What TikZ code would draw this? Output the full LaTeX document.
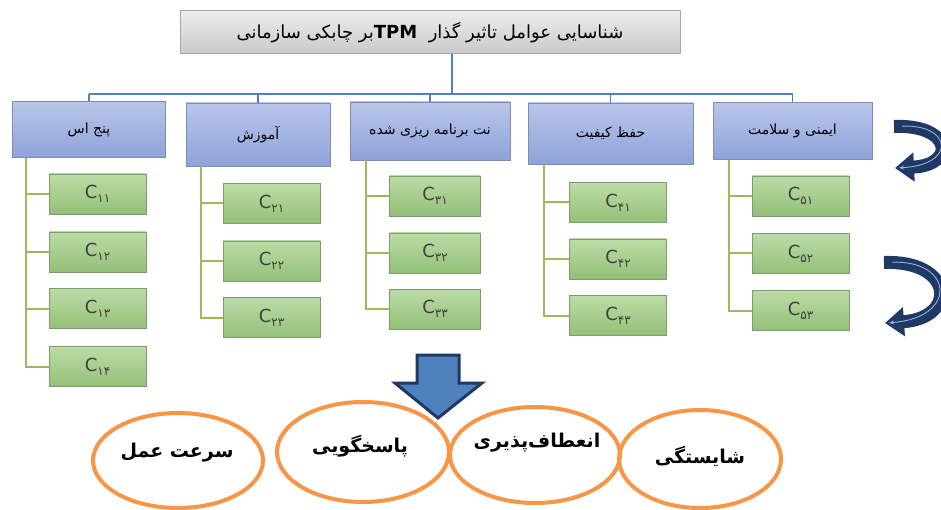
\documentclass[tikz,border=0pt]{standalone}
\usepackage{fontspec}
\setmainfont{DejaVu Sans}
\newfontfamily\arabicfont[Script=Arabic]{DejaVu Sans}
\TeXXeTstate=1
\usetikzlibrary{arrows.meta,shapes.geometric}

\definecolor{titletop}{HTML}{EDEDED}
\definecolor{titlebot}{HTML}{C9C9C9}
\definecolor{titleedge}{HTML}{A6A6A6}
\definecolor{bluetop}{HTML}{B9C6EA}
\definecolor{bluebot}{HTML}{8FA3DA}
\definecolor{blueedge}{HTML}{7F8CAE}
\definecolor{greentop}{HTML}{BCDCA6}
\definecolor{greenbot}{HTML}{93C078}
\definecolor{greenedge}{HTML}{7F9A6E}
\definecolor{linkblue}{HTML}{4F81BD}
\definecolor{linkgreen}{HTML}{9BBB59}
\definecolor{ringorange}{HTML}{F79646}
\definecolor{navy}{HTML}{1F3864}
\definecolor{arrowblue}{HTML}{4F81BD}
\definecolor{paleblue}{HTML}{8DB3E2}

% subscripted criterion label: C with Persian digits
\newcommand\critlab[1]{C\raisebox{-4pt}{\arabicfont\fontsize{12}{12}\selectfont #1}}

\begin{document}
\begin{tikzpicture}[x=1pt,y=-1pt,
  titlebox/.style={draw=titleedge, line width=1pt, top color=titletop, bottom color=titlebot,
    inner sep=0pt, minimum width=500pt, minimum height=43pt,
    font=\arabicfont\fontsize{18}{20}\selectfont},
  factor/.style={draw=blueedge, line width=0.8pt, top color=bluetop, bottom color=bluebot,
    inner sep=0pt, font=\arabicfont\fontsize{14}{16}\selectfont},
  crit/.style={draw=greenedge, line width=0.8pt, top color=greentop, bottom color=greenbot,
    inner sep=0pt, minimum width=97pt, minimum height=40pt,
    font=\fontsize{18}{19}\selectfont, text=black!75},
  ring/.style={ellipse, draw=ringorange, line width=4pt, inner sep=0pt},
  ringtext/.style={font=\arabicfont\bfseries\fontsize{19}{21}\selectfont},
  bluelink/.style={draw=linkblue, line width=1.3pt},
  greenlink/.style={draw=linkgreen, line width=2pt},
  curlarrow/.style={draw=navy, line width=13pt, -{Triangle[length=19pt,width=28pt]}},
  curlline/.style={draw=paleblue, line width=0.9pt, shorten <=8pt, shorten >=4pt,
    -{Stealth[length=5pt,width=4pt]}}
]
\clip (0,0) rectangle (941,510);
\fill[white] (0,0) rectangle (941,510);

% title
\node[titlebox] (title) at (430,32.5)
  {\beginR شناسایی عوامل تاثیر گذار\ \ \beginL\textbf{TPM}\endL{}بر چابکی سازمانی\endR};

% factor boxes
\node[factor, minimum width=153pt, minimum height=56pt] (f1) at (89,129.5) {\beginR پنج اس\endR};
\node[factor, minimum width=144pt, minimum height=63pt] (f2) at (258,134.5) {\beginR آموزش\endR};
\node[factor, minimum width=160pt, minimum height=58pt] (f3) at (430,131) {\beginR نت برنامه ریزی شده\endR};
\node[factor, minimum width=165pt, minimum height=61pt] (f4) at (610.5,133.5) {\beginR حفظ کیفیت\endR};
\node[factor, minimum width=159pt, minimum height=57pt] (f5) at (792.5,131) {\beginR ایمنی و سلامت\endR};

% title to factors
\coordinate (hub) at (452,94);
\coordinate (hubL) at (89,94);
\coordinate (hubR) at (792.5,94);
\draw[bluelink] (title.south -| hub) -- (hub);
\draw[bluelink] (hubL) -- (hubR);
\foreach \f in {f1,f2,f3,f4,f5}
  \draw[bluelink] (\f.north |- hub) -- (\f.north);

% criteria, column 1
\node[crit] (c11) at (97.5,194) {\critlab{۱۱}};
\node[crit] (c12) at (97.5,252) {\critlab{۱۲}};
\node[crit] (c13) at (97.5,308.5) {\critlab{۱۳}};
\node[crit] (c14) at (97.5,366.5) {\critlab{۱۴}};
% column 2
\node[crit] (c21) at (271.5,203.5) {\critlab{۲۱}};
\node[crit] (c22) at (271.5,261) {\critlab{۲۲}};
\node[crit] (c23) at (271.5,317.5) {\critlab{۲۳}};
% column 3
\node[crit, minimum width=91pt] (c31) at (435,196) {\critlab{۳۱}};
\node[crit, minimum width=91pt] (c32) at (435,253) {\critlab{۳۲}};
\node[crit, minimum width=91pt] (c33) at (435,309) {\critlab{۳۳}};
% column 4
\node[crit] (c41) at (618,202.5) {\critlab{۴۱}};
\node[crit] (c42) at (618,259) {\critlab{۴۲}};
\node[crit] (c43) at (618,315.5) {\critlab{۴۳}};
% column 5
\node[crit] (c51) at (800.5,196) {\critlab{۵۱}};
\node[crit] (c52) at (800.5,253.5) {\critlab{۵۲}};
\node[crit] (c53) at (800.5,310.5) {\critlab{۵۳}};

% green trunks and branches
\coordinate (t1) at (26,0);
\coordinate (t2) at (201,0);
\coordinate (t3) at (366,0);
\coordinate (t4) at (544,0);
\coordinate (t5) at (729,0);
\draw[greenlink] (f1.south -| t1) |- (c14.west);
\draw[greenlink] (t1 |- c11) -- (c11.west);
\draw[greenlink] (t1 |- c12) -- (c12.west);
\draw[greenlink] (t1 |- c13) -- (c13.west);
\draw[greenlink] (f2.south -| t2) |- (c23.west);
\draw[greenlink] (t2 |- c21) -- (c21.west);
\draw[greenlink] (t2 |- c22) -- (c22.west);
\draw[greenlink] (f3.south -| t3) |- (c33.west);
\draw[greenlink] (t3 |- c31) -- (c31.west);
\draw[greenlink] (t3 |- c32) -- (c32.west);
\draw[greenlink] (f4.south -| t4) |- (c43.west);
\draw[greenlink] (t4 |- c41) -- (c41.west);
\draw[greenlink] (t4 |- c42) -- (c42.west);
\draw[greenlink] (f5.south -| t5) |- (c53.west);
\draw[greenlink] (t5 |- c51) -- (c51.west);
\draw[greenlink] (t5 |- c52) -- (c52.west);

% curved arrows on the right
\coordinate (b1s) at (894,126.5);
\coordinate (b1e) at (895,168);
\draw[curlarrow] (b1s) .. controls (952,124) and (957,165) .. (b1e);
\draw[curlline] (b1s) .. controls (952,124) and (957,165) .. (b1e);
\coordinate (b2s) at (884,262.5);
\coordinate (b2e) at (885,323);
\draw[curlarrow] (b2s) .. controls (954,260) and (958,318) .. (b2e);
\draw[curlline] (b2s) .. controls (954,260) and (958,318) .. (b2e);

% block arrow pointing down to the outcomes
\draw[draw=navy, fill=arrowblue, line width=3pt, line join=miter]
  (417,355) -- (459,355) -- (459,383) -- (482,383) -- (438,418)
  -- (395,383) -- (417,383) -- cycle;

% outcomes
\node[ring, minimum width=170pt, minimum height=95pt] (o1) at (178,460.5) {};
\node[ring, minimum width=172pt, minimum height=100pt] (o2) at (363,452) {};
\node[ring, minimum width=170pt, minimum height=96pt] (o3) at (535,455) {};
\node[ring, minimum width=162pt, minimum height=98pt] (o4) at (700,459) {};
\node[ringtext] (o1t) at (177,453) {\beginR سرعت عمل\endR};
\node[ringtext] (o2t) at (360,446) {\beginR پاسخگویی\endR};
\node[ringtext] (o3t) at (537,443) {\beginR انعطاف‌پذیری\endR};
\node[ringtext] (o4t) at (700,456) {\beginR شایستگی\endR};
\end{tikzpicture}
\end{document}
